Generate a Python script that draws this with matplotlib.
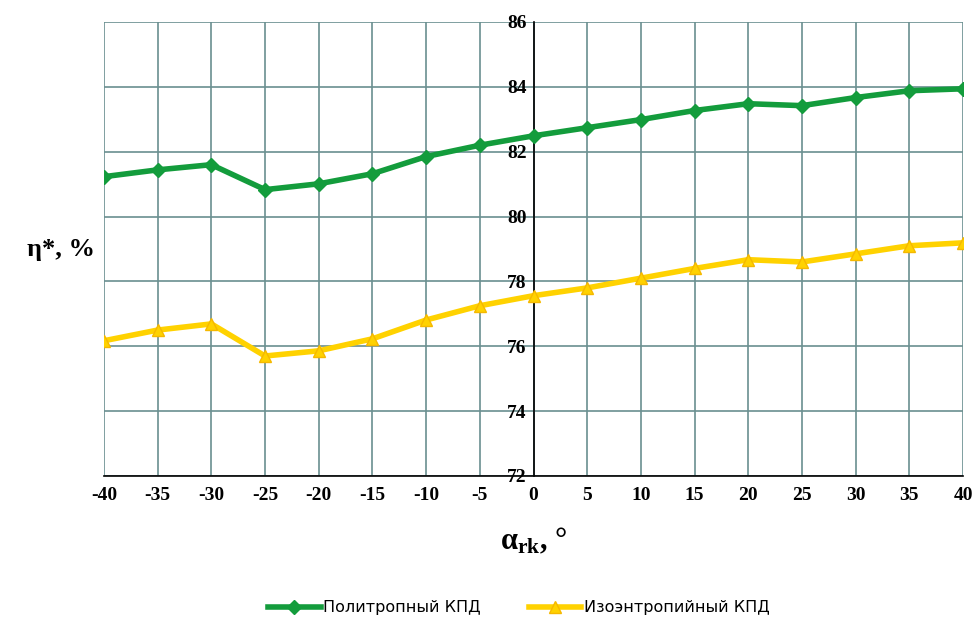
import matplotlib
matplotlib.use("Agg")
import matplotlib.pyplot as plt

plt.rcParams["axes.unicode_minus"] = False
plt.rcParams["mathtext.fontset"] = "custom"
plt.rcParams["mathtext.rm"] = "Liberation Serif:bold"
plt.rcParams["mathtext.bf"] = "Liberation Serif:bold"
plt.rcParams["mathtext.it"] = "Liberation Serif:bold"

alpha_rk = [-40, -35, -30, -25, -20, -15, -10, -5, 0, 5, 10, 15, 20, 25, 30, 35, 40]
polytropic = [81.23, 81.44, 81.6, 80.83, 81.01, 81.32, 81.85, 82.2, 82.49, 82.74,
              82.99, 83.27, 83.48, 83.42, 83.67, 83.88, 83.94]
isentropic = [76.17, 76.5, 76.69, 75.7, 75.86, 76.23, 76.81, 77.25, 77.56, 77.8,
              78.1, 78.4, 78.67, 78.6, 78.85, 79.1, 79.19]
x_ticks = list(range(-40, 41, 5))
y_ticks = list(range(72, 87, 2))

fig = plt.figure(figsize=(9.79, 6.21), dpi=100)
ax = fig.add_axes([0.1062, 0.2335, 0.8775, 0.7311])

ax.plot(alpha_rk, polytropic, color="#139c3c", lw=4, marker="D", ms=7,
        mec="#139c3c", mfc="#139c3c", label="Политропный КПД", zorder=3)
ax.plot(alpha_rk, isentropic, color="#ffd200", lw=4, marker="^", ms=9,
        mec="#f5b800", mfc="#ffd200", label="Изоэнтропийный КПД", zorder=3)

ax.set_xlim(-40, 40)
ax.set_ylim(72, 86)
ax.set_xticks(x_ticks)
ax.set_yticks(y_ticks)
ax.grid(True, color="#6a8f90", lw=1.2)
ax.set_axisbelow(True)

for s in ["top", "right"]:
    ax.spines[s].set_visible(False)
ax.spines["left"].set_position(("data", 0))
ax.spines["left"].set_color("black")
ax.spines["left"].set_linewidth(1.2)
ax.spines["bottom"].set_color("black")
ax.spines["bottom"].set_linewidth(1.2)
ax.tick_params(axis="both", length=0, pad=8)
ax.tick_params(axis="y", pad=5)

for lab in ax.get_xticklabels() + ax.get_yticklabels():
    lab.set_fontfamily("Liberation Serif")
    lab.set_fontweight("bold")
    lab.set_fontsize(14)

fig.text(0.062, 0.598, "η*, %", fontfamily="Liberation Serif", fontweight="bold",
         fontsize=19, ha="center", va="center")
fig.text(0.545, 0.128, r"$\alpha_{\mathrm{rk}}$, °", fontfamily="Liberation Serif",
         fontweight="bold", fontsize=22, ha="center", va="center")

leg = fig.legend(loc="center", bbox_to_anchor=(0.53, 0.021), ncol=2, frameon=False,
                 prop={"family": "DejaVu Sans", "size": 11.5}, handlelength=3.3,
                 columnspacing=3.0, handletextpad=0.15)
fig.savefig("out.png", dpi=100)
